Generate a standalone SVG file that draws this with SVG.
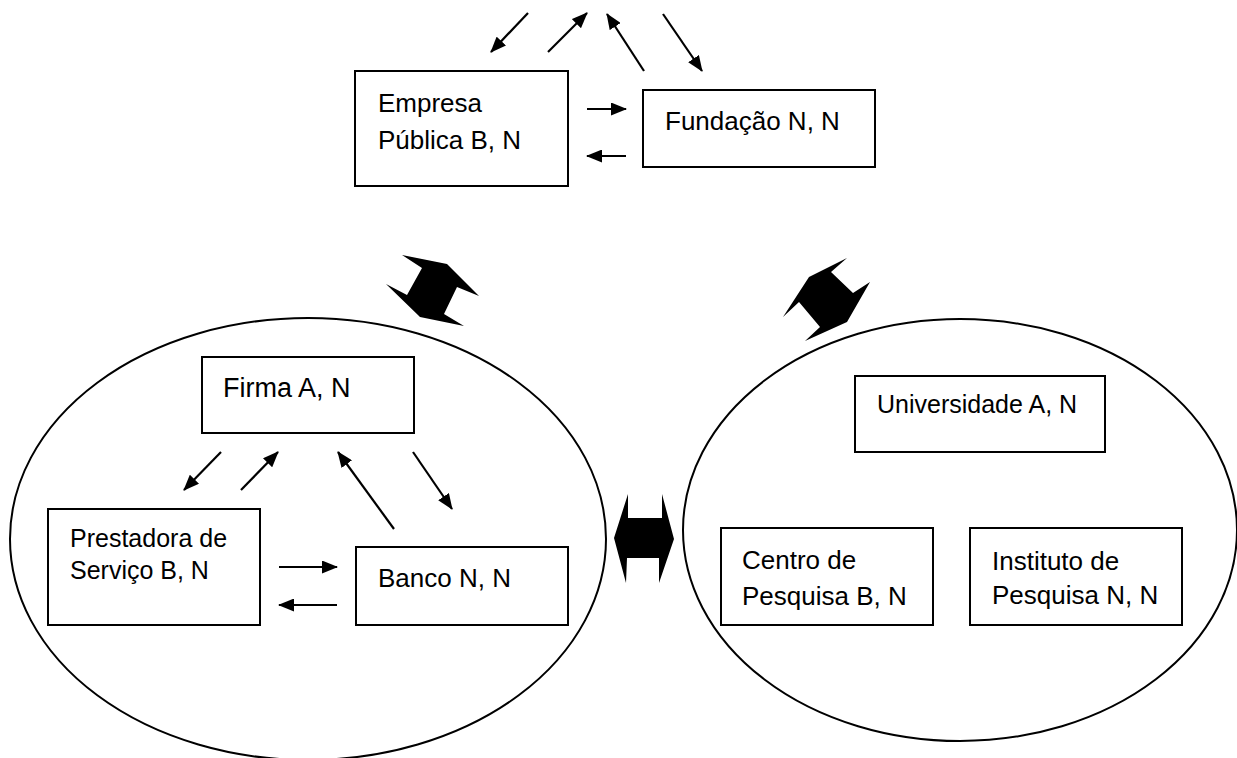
<svg xmlns="http://www.w3.org/2000/svg" width="1237" height="758" viewBox="0 0 1237 758">
  <style>
    .bg { fill: #ffffff; }
    .box { fill: #ffffff; stroke: #000000; stroke-width: 2; }
    .cluster { fill: none; stroke: #000000; stroke-width: 2; }
    .lbl { font-family: "Liberation Sans", Arial, sans-serif; fill: #000000; }
    .arr { stroke: #000000; stroke-width: 2.2; fill: none; marker-end: url(#head); }
    .block { fill: #000000; stroke: none; }
  </style>
  <defs>
    <marker id="head" markerUnits="userSpaceOnUse" markerWidth="16" markerHeight="13" refX="15" refY="6.5" orient="auto">
      <path d="M0,0 L16,6.5 L0,13 z" fill="#000000"/>
    </marker>
  </defs>
  <rect class="bg" x="0" y="0" width="1237" height="758"/>

  <g id="cluster-left">
    <ellipse class="cluster" cx="308" cy="539" rx="298" ry="221"/>
  </g>
  <g id="cluster-right">
    <ellipse class="cluster" cx="960" cy="530" rx="277" ry="211"/>
  </g>

  <g id="empresa-publica">
    <rect class="box" x="355" y="71" width="213" height="115"/>
    <text class="lbl" font-size="26" x="378" y="112">Empresa</text>
    <text class="lbl" font-size="26" x="378" y="149">Pública B, N</text>
  </g>
  <g id="fundacao">
    <rect class="box" x="643" y="90" width="232" height="77"/>
    <text class="lbl" font-size="26" x="665" y="130">Fundação N, N</text>
  </g>
  <g id="firma">
    <rect class="box" x="202" y="357" width="212" height="76"/>
    <text class="lbl" font-size="27" x="223" y="397">Firma A, N</text>
  </g>
  <g id="prestadora">
    <rect class="box" x="48" y="509" width="212" height="116"/>
    <text class="lbl" font-size="25" x="70" y="547">Prestadora de</text>
    <text class="lbl" font-size="25" x="70" y="579">Serviço B, N</text>
  </g>
  <g id="banco">
    <rect class="box" x="356" y="547" width="212" height="78"/>
    <text class="lbl" font-size="26" x="378" y="587">Banco N, N</text>
  </g>
  <g id="universidade">
    <rect class="box" x="855" y="376" width="250" height="76"/>
    <text class="lbl" font-size="25" x="877" y="413">Universidade A, N</text>
  </g>
  <g id="centro-pesquisa">
    <rect class="box" x="721" y="528" width="212" height="97"/>
    <text class="lbl" font-size="26" x="742" y="569">Centro de</text>
    <text class="lbl" font-size="26" x="742" y="605">Pesquisa B, N</text>
  </g>
  <g id="instituto-pesquisa">
    <rect class="box" x="970" y="528" width="212" height="97"/>
    <text class="lbl" font-size="26" x="992" y="570">Instituto de</text>
    <text class="lbl" font-size="26" x="992" y="604">Pesquisa N, N</text>
  </g>

  <g id="connectors">
    <line class="arr" x1="528" y1="13" x2="491" y2="52"/>
    <line class="arr" x1="548" y1="52" x2="587" y2="13"/>
    <line class="arr" x1="644" y1="71" x2="607" y2="14"/>
    <line class="arr" x1="663" y1="14" x2="702" y2="71"/>
    <line class="arr" x1="587" y1="109" x2="626" y2="109"/>
    <line class="arr" x1="626" y1="156" x2="587" y2="156"/>

    <line class="arr" x1="221" y1="452" x2="184" y2="490"/>
    <line class="arr" x1="241" y1="490" x2="278" y2="452"/>
    <line class="arr" x1="394" y1="529" x2="338" y2="452"/>
    <line class="arr" x1="413" y1="452" x2="452" y2="509"/>
    <line class="arr" x1="279" y1="567" x2="337" y2="567"/>
    <line class="arr" x1="337" y1="605" x2="279" y2="605"/>

    <polygon class="block" points="402,255 447,264 479,296 457,287 444,314 464,326 420,317 386,284 407,295 422,268"/>
    <polygon class="block" points="847,258 809,277 783,317 799,302 820,327 805,341 847,322 870,282 853,293 831,272"/>
    <polygon class="block" points="614,538 628,494 628,518 662,518 662,494 674,539 659,583 659,558 627,558 626,583"/>
  </g>
</svg>
